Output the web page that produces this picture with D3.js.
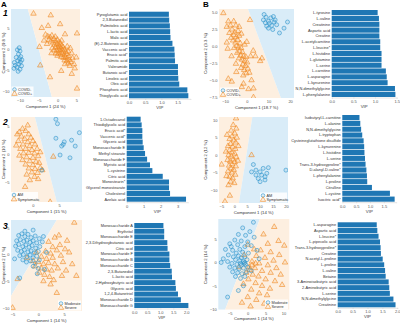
<!DOCTYPE html>
<html>
<head>
<meta charset="utf-8">
<script src="https://cdn.jsdelivr.net/npm/d3@7"></script>
<style>
  body { margin: 0; background: #fff; }
  svg { display: block; font-family: "Liberation Sans", Arial, sans-serif; }
</style>
</head>
<body>
<svg id="fig" width="400" height="323"></svg>
<script>
// ---------- VIP bar data (top to bottom) ----------
const a1Names = ["Pyroglutamic acid", "2,3-Butanediol", "Palmitoleic acid", "L-lactic acid", "Malic acid",
  "(E)-2-Butenoic acid", "Vaccenic acid*", "Erucic acid*", "Palmitic acid", "Valeramide",
  "Butanoic acid*", "Linoleic acid", "Oleic acid", "Phosphoric acid", "Thioglycolic acid"];
const a1Vip = [1.23, 1.24, 1.26, 1.27, 1.28, 1.34, 1.40, 1.41, 1.42, 1.51, 1.51, 1.52, 1.55, 1.80, 1.83];

const b1Names = ["L-tyrosine", "L-valine", "Creatinine", "Aspartic acid", "Creatine",
  "L-acetylcarnitine", "L-leucine*", "L-histidine", "L-glutamine", "L-serine",
  "L-carnitine", "L-asparagine", "L-kynurenine", "N,N-dimethylglycine", "L-phenylalanine"];
const b1Vip = [1.06, 1.09, 1.10, 1.10, 1.10, 1.12, 1.12, 1.15, 1.15, 1.15, 1.25, 1.27, 1.29, 1.46, 1.47];

const a2Names = ["1-Octadecanol", "Thiodiglycolic acid", "Erucic acid*", "Vaccenic acid*", "Glyceric acid",
  "Monosaccharide E", "Methyl stearate", "Monosaccharide F", "Myristic acid", "L-cysteine",
  "Citric acid", "Monostearin*", "Glycerol monostearate", "Cholesterol", "Azelaic acid"];
const a2Vip = [0.82, 0.88, 0.92, 0.92, 0.94, 1.00, 1.08, 1.20, 1.37, 1.51, 2.12, 2.49, 2.49, 2.55, 3.49];

const b2Names = ["Isobutyryl-L-carnitine", "L-alanine", "N,N-dimethylglycine", "L-tryptophan", "Cysteineglutathione disulfide",
  "L-kynurenine", "L-histidine", "L-serine", "Trans-3-hydroxyproline*", "D-alanyl-D-valine*",
  "L-phenylalanine", "L-proline", "Citrulline", "L-cystine", "Isocitric acid*"];
const b2Vip = [0.62, 0.65, 0.68, 0.72, 0.77, 0.79, 0.80, 0.82, 0.84, 0.87, 0.89, 0.90, 1.07, 1.72, 1.89];

const a3Names = ["Monosaccharide A", "Erythritol", "Monosaccharide E", "2,3-Dihydroxybutanoic acid", "Citric acid",
  "Monosaccharide F", "Monosaccharide B", "Monosaccharide C", "2,3-Butanediol", "L-lactic acid",
  "2-Hydroxybutyric acid", "Glyceric acid", "1,2,4-Butanetriol", "Monosaccharide D", "Monosaccharide G"];
const a3Vip = [1.12, 1.15, 1.15, 1.27, 1.28, 1.35, 1.35, 1.38, 1.44, 1.45, 1.58, 1.60, 1.68, 1.79, 2.08];

const b3Names = ["L-asparagine", "Aspartic acid", "L-leucine*", "L-pipecolic acid", "Trans-3-hydroxyproline*",
  "Creatine", "N-acetyl-L-proline", "L-proline", "L-valine", "Betaine",
  "3-Aminoisobutyric acid", "2-Aminobutyric acid", "L-serine", "N,N-dimethylglycine", "Creatinine"];
const b3Vip = [1.31, 1.33, 1.37, 1.42, 1.44, 1.45, 1.51, 1.56, 1.59, 1.61, 1.71, 1.73, 1.75, 1.87, 1.94];

// ---------- score plot data: [component 1, component 2] ----------
const a1Circles = [[-10.2,0.3],[-10.0,-0.5],[-10.4,-1.2],[-9.8,-1.8],[-10.1,-2.3],[-10.6,-2.8],[-9.9,-3.1],
  [-10.3,-3.6],[-11.5,-3.2],[-11.3,-3.9],[-10.8,-4.3],[-9.6,-4.0],[-10.0,-4.8],[-10.5,-5.3],[-11.0,-2.0],
  [-9.5,-2.6],[-10.7,-0.2],[-11.6,-4.6]];
const a1Triangles = [[-3.2,3.4],[-2.6,3.0],[-2.0,2.8],[-1.5,3.2],[-2.3,2.2],[-1.8,1.8],[-1.0,2.4],[-0.6,2.9],
  [-1.2,1.5],[-0.5,1.9],[0.0,2.2],[0.4,1.6],[-0.8,1.0],[-0.2,1.2],[0.3,0.9],[0.8,1.3],[1.2,0.8],[-0.5,0.4],
  [0.1,0.3],[0.6,0.5],[1.0,0.1],[1.5,0.4],[-1.4,0.2],[-0.9,-0.3],[-0.2,-0.4],[0.4,-0.2],[0.9,-0.6],[1.4,-0.3],
  [1.9,-0.1],[2.2,-0.7],[0.2,-1.0],[0.8,-1.3],[1.3,-1.0],[1.8,-1.4],[2.4,-1.2],[2.8,-0.5],[1.0,-1.9],[1.6,-2.1],
  [2.1,-1.9],[2.6,-2.2],[3.0,-1.7],[1.9,-2.7],[2.5,-2.9],[3.2,-2.6],[3.6,-3.1],[2.9,-3.4],[4.0,-2.2],[3.4,0.2],
  [-2.8,1.2],[-3.6,2.0],[0.0,-1.6],[-0.4,-1.1],[1.1,2.0],[2.6,0.6],[3.8,-1.0],[-1.6,-1.0],[4.4,-3.6],[3.3,-4.0],
  [2.0,-3.6],[-6.4,8.4],[-1.8,8.0],[0.7,5.9],[5.2,3.7],[-4.2,5.0],[-2.5,5.5],[3.8,-5.9],[-2.0,-6.7],[5.2,-9.4],
  [-4.6,-3.9],[4.6,-4.6],[1.0,-5.2],[-4.8,0.5],[5.0,-2.0],[2.0,3.5]];

const b1Circles = [[8,4.6],[8.9,4.2],[7.7,3.8],[10,3.6],[11.1,4.1],[12.3,4.3],[13.1,3.8],[10.5,3.3],[9.2,2.9],
  [11.5,3.0],[13.8,3.1],[12,2.4],[15.1,1.9],[17.2,2.6],[18.8,3.5],[8.6,3.4],[10,2.6],[12.6,3.5]];
const b1Triangles = [[-10.8,4.8],[-8.5,3.6],[-9.2,2.8],[-7.5,3.0],[-6.8,2.4],[-8.0,1.9],[-6.0,1.6],[-7.2,1.2],
  [-5.5,2.0],[-4.8,1.3],[-6.3,0.8],[-5.2,0.5],[-4.2,0.9],[-3.5,1.5],[-4.6,0.0],[-3.8,-0.2],[-3.0,0.4],[-5.8,-0.3],
  [-2.6,-0.3],[-3.4,-0.8],[-4.4,-1.0],[-2.0,-0.9],[-2.8,-1.4],[-1.5,-1.5],[-3.6,-1.8],[-2.2,-2.0],[-1.0,-2.2],
  [-0.4,-1.6],[-1.8,-2.7],[-0.6,-2.9],[0.2,-2.4],[-2.6,-3.2],[-1.2,-3.5],[0.5,-3.3],[-0.2,-4.0],[1.2,-3.9],
  [-1.6,-4.3],[0.0,0.6],[-1.0,0.2],[1.5,3.8],[6.2,-2.2],[7.0,-1.8],[4.0,-1.5],[3.0,-0.7],[0.8,-6.3],[3.1,-6.2],
  [-2.3,-6.0],[3.1,-7.5],[-6.9,-5.2],[-8.5,-4.8],[-9.2,0.5],[-5.0,-2.6],[-7.0,-1.5],[-6.0,3.6],[-3.5,2.8],
  [-2.5,1.8],[-4.0,2.2],[-5.0,3.0],[-8.8,-0.4],[-1.5,-5.5],[2.2,-5.0],[-4.8,-3.8],[1.8,-1.5]];

const a2Circles = [[4.4,6.3],[4.7,5.5],[4.4,2.9],[6.0,2.25],[7.4,2.55],[5.8,1.8],[5.5,1.5],[8.1,1.5],[8.9,3.9],
  [5.2,-0.1],[7.1,-0.6],[1.7,-2.8]];
const a2Triangles = [[-2.0,4.6],[-2.6,4.0],[-1.4,4.2],[-0.8,3.6],[-2.2,3.2],[-1.6,2.8],[-0.4,3.0],[-2.8,2.4],
  [-1.0,2.2],[0.0,2.4],[-1.9,1.8],[-0.6,1.5],[0.4,1.8],[-2.4,1.0],[-1.4,1.0],[-0.2,0.8],[0.8,1.0],[-1.8,0.2],
  [-0.8,0.3],[0.3,0.2],[-2.6,-0.2],[-1.2,-0.5],[0.0,-0.6],[1.0,-0.3],[-2.0,-1.0],[-0.6,-1.2],[0.6,-1.3],
  [-1.4,-1.8],[0.0,-1.9],[1.2,-1.5],[-0.8,-2.5],[0.4,-2.6],[1.4,-2.4],[-0.2,-3.2],[0.9,-3.3],[-1.2,-3.6],
  [0.3,-4.0],[-0.6,-4.6],[1.0,-4.4],[-1.5,-5.8],[3.3,-8.5],[3.9,-0.4],[1.8,-2.8],[-3.2,1.6],[-3.0,3.6],
  [1.4,0.4],[-1.0,5.2]];

const b2Circles = [[7.4,-2.7],[8.4,-4.3],[10,-4.8],[11.2,-3.8],[10.6,-5.7],[11.9,-6.2],[12.6,-5.2],[9.3,-6.7],
  [8.4,-5.7],[13.2,-3.6],[20,-4.3],[6.7,-4.8],[11.9,-7.1],[10,-7.6]];
const b2Triangles = [[0.7,10.5],[-0.4,8.6],[0.8,7.6],[-1.2,7.0],[0.2,6.2],[-0.8,5.4],[1.0,5.0],[-1.8,4.6],
  [-0.2,4.2],[0.6,3.6],[-1.4,3.2],[-2.4,2.6],[-0.6,2.4],[0.4,1.8],[-1.8,1.4],[-0.9,0.8],[0.2,0.4],[-2.2,0.0],
  [-1.2,-0.4],[0.8,-0.6],[-0.4,-1.2],[-2.6,-1.4],[-1.6,-1.8],[0.2,-2.0],[-0.8,-2.6],[-2.0,-3.0],[0.6,-3.2],
  [-1.2,-3.8],[-0.2,-4.2],[-2.4,-4.6],[-1.0,-5.0],[0.4,-5.6],[-1.8,-6.2],[-0.6,-6.6],[-1.4,-7.6],[0.0,-8.0],
  [-2.2,-8.6],[-1.7,-11.6],[-3.6,-13.3],[6.7,0.0],[-4.9,-2.7],[-2.8,5.8],[1.6,2.6],[-3.2,1.0],[1.4,-1.6],
  [-3.0,-6.0]];

const a3Circles = [[-3.8,3.6],[-3.2,3.9],[-2.6,3.4],[-2.0,3.8],[-1.4,3.2],[-0.6,3.5],[0.2,3.0],[0.8,2.4],
  [-4.2,2.6],[-3.5,2.8],[-2.8,2.5],[-2.2,2.7],[-1.6,2.3],[-1.0,2.6],[-0.3,2.2],[-4.4,1.6],[-3.8,1.9],[-3.0,1.5],
  [-2.4,1.8],[-1.8,1.4],[-1.2,1.7],[-0.5,1.2],[0.3,1.5],[-4.0,0.8],[-3.3,0.6],[-2.7,0.9],[-2.0,0.5],[-1.4,0.7],
  [-0.8,0.3],[0.0,0.6],[-3.6,-0.2],[-2.9,0.0],[-2.2,-0.4],[-1.6,-0.1],[-1.0,-0.6],[-0.3,-0.3],[-3.0,-1.0],
  [-2.3,-1.4],[-1.5,-1.2],[-0.6,-1.6],[0.2,-1.0],[-1.0,-2.2],[0.0,-2.6],[-0.2,-3.6],[1.2,-2.8],[-4.6,-0.8],
  [-3.6,-4.4],[1.6,0.4],[1.0,3.4],[-2.6,4.4],[-1.0,4.6]];
const a3Triangles = [[7.0,6.0],[3.2,3.2],[2.0,2.4],[2.8,1.4],[4.2,1.8],[5.6,2.6],[1.4,0.6],[2.4,0.2],[3.6,0.8],
  [0.6,-0.4],[1.6,-0.8],[2.8,-0.6],[4.4,-0.2],[6.0,0.4],[0.0,-1.4],[1.0,-1.8],[2.0,-1.6],[3.2,-1.8],[4.8,-1.4],
  [-0.6,-2.2],[0.6,-2.6],[1.6,-2.8],[2.6,-3.0],[3.8,-2.6],[5.4,-3.0],[0.2,-3.4],[1.2,-3.8],[2.2,-4.2],[3.0,-4.8],
  [1.0,-5.0],[4.6,-4.0],[7.4,-4.0],[3.6,-7.2],[-5.0,-10.0],[-4.0,-4.6],[-2.2,-0.6],[-1.0,-1.2],[6.6,-1.8],
  [4.0,3.6],[-0.4,0.4],[2.4,-5.6],[5.2,1.0]];

const b3Circles = [[1.6,8.6],[-1.4,7.4],[0.6,6.6],[-2.6,6.0],[-0.6,5.8],[1.8,5.4],[-3.6,4.8],[-1.8,4.6],[0.0,4.4],
  [-5.0,4.0],[-2.8,3.8],[-0.8,3.4],[1.0,3.6],[-6.2,2.8],[-4.2,2.6],[-2.2,2.8],[-3.2,2.0],[-1.4,2.2],[0.2,2.0],
  [-5.4,1.6],[-4.0,1.2],[-2.6,1.4],[-1.8,1.0],[-0.8,1.2],[-3.4,0.6],[-2.2,0.4],[-1.2,0.2],[-0.2,0.6],[-6.8,0.8],
  [-5.6,0.2],[-4.4,-0.2],[-3.0,-0.4],[-1.8,-0.6],[-0.6,-0.4],[-5.0,-1.0],[-3.6,-1.2],[-2.4,-1.4],[-1.2,-1.2],
  [0.0,-1.0],[-4.2,-2.0],[-2.8,-2.2],[-1.6,-2.4],[-0.4,-2.0],[-3.4,-3.0],[-2.0,-3.4],[-0.8,-3.0],[1.0,-1.8],
  [-1.2,-5.0],[-5.6,-7.4],[-2.6,-6.0],[3.2,0.8],[-7.4,0.0],[-4.6,3.4],[2.6,2.6],[-1.0,-0.2],[-2.0,-0.2],[-0.8,0.0]];
const b3Triangles = [[7.4,7.6],[4.4,6.0],[8.6,4.6],[5.6,4.0],[10.2,3.6],[3.6,2.6],[6.4,2.2],[8.8,1.6],[2.4,1.4],
  [4.8,1.0],[7.2,0.4],[10.4,0.0],[1.2,0.2],[3.2,-0.2],[5.6,-0.6],[8.0,-1.2],[0.4,-1.0],[2.0,-1.2],[4.0,-1.8],
  [6.4,-2.2],[9.2,-2.6],[-0.4,-2.2],[1.4,-2.6],[3.0,-3.0],[5.0,-3.6],[7.6,-4.0],[0.2,-3.6],[2.2,-4.4],[4.0,-5.0],
  [6.2,-5.6],[-1.2,-4.6],[1.0,-5.8],[3.2,-6.6],[5.4,-7.0],[0.0,-7.4],[2.4,-8.0],[-1.6,-8.6],[0.8,-9.4],
  [4.6,-8.8],[1.8,2.8],[0.0,3.8],[-1.0,1.6],[-2.4,-1.0],[2.2,-0.2],[0.6,-1.6],[1.2,-0.6],[9.6,-4.8]];

// ---------- styling ----------
const BLUE = "#2f95cc", ORANGE = "#f08a24";
const BLUE_BG = "#d9ecf8", ORANGE_BG = "#fdefe0";
const BAR = "#1f77b4";
const TICK = "#555", TITLE = "#333";

const svg = d3.select("#fig");

function drawScatter(cfg) {
  const x = d3.scaleLinear().domain(cfg.xDom).range([cfg.left, cfg.right]);
  const y = d3.scaleLinear().domain(cfg.yDom).range([cfg.bottom, cfg.top]);

  svg.append("clipPath").attr("id", "clip-" + cfg.id)
    .append("rect")
    .attr("x", cfg.left).attr("y", cfg.top)
    .attr("width", cfg.right - cfg.left).attr("height", cfg.bottom - cfg.top);

  const g = svg.append("g").attr("clip-path", `url(#clip-${cfg.id})`);

  // decision regions split by a straight boundary
  const [p, q] = cfg.boundary;
  const x1 = x(p[0]), y1 = y(p[1]), x2 = x(q[0]), y2 = y(q[1]);
  const xAt = yy => x1 + (x2 - x1) * (yy - y1) / (y2 - y1);
  const xt = xAt(cfg.top), xb = xAt(cfg.bottom);
  g.append("polygon")
    .attr("points", [[cfg.left - 400, cfg.top], [xt, cfg.top], [xb, cfg.bottom], [cfg.left - 400, cfg.bottom]].join(" "))
    .attr("fill", cfg.leftBg);
  g.append("polygon")
    .attr("points", [[xt, cfg.top], [cfg.right + 400, cfg.top], [cfg.right + 400, cfg.bottom], [xb, cfg.bottom]].join(" "))
    .attr("fill", cfg.rightBg);

  const tri = d3.symbol().type(d3.symbolTriangle).size(13);
  g.selectAll(".tri").data(cfg.triangles).join("path")
    .attr("class", "tri")
    .attr("d", tri)
    .attr("transform", d => `translate(${x(d[0])},${y(d[1])})`)
    .attr("fill", ORANGE).attr("fill-opacity", 0.12)
    .attr("stroke", ORANGE).attr("stroke-width", 0.6);

  g.selectAll(".dot").data(cfg.circles).join("circle")
    .attr("class", "dot")
    .attr("cx", d => x(d[0])).attr("cy", d => y(d[1])).attr("r", 2)
    .attr("fill", BLUE).attr("fill-opacity", 0.12)
    .attr("stroke", BLUE).attr("stroke-width", 0.6);

  // axes
  const xa = svg.append("g")
    .attr("transform", `translate(0,${cfg.bottom})`)
    .call(d3.axisBottom(x).tickValues(cfg.xTicks).tickSize(0).tickPadding(2.5).tickFormat(cfg.xFmt || d3.format("")));
  const ya = svg.append("g")
    .attr("transform", `translate(${cfg.left},0)`)
    .call(d3.axisLeft(y).tickValues(cfg.yTicks).tickSize(0).tickPadding(1.5).tickFormat(cfg.yFmt || d3.format("")));
  [xa, ya].forEach(a => {
    a.select(".domain").remove();
    a.selectAll("text").attr("font-size", 4).attr("fill", TICK).attr("font-family", "Liberation Sans, Arial, sans-serif");
  });

  svg.append("text")
    .attr("x", (cfg.left + cfg.right) / 2).attr("y", cfg.bottom + 10.5)
    .attr("text-anchor", "middle").attr("font-size", 4.3).attr("fill", TITLE)
    .text(cfg.xLabel);
  svg.append("text")
    .attr("transform", `translate(${cfg.yLabelX},${(cfg.top + cfg.bottom) / 2}) rotate(-90)`)
    .attr("text-anchor", "middle").attr("font-size", 4.3).attr("fill", TITLE)
    .text(cfg.yLabel);

  // legend
  const lg = svg.append("g").attr("transform", `translate(${cfg.legend[0]},${cfg.legend[1]})`);
  lg.append("rect").attr("x", 0).attr("y", 0).attr("width", cfg.legendW).attr("height", 10)
    .attr("fill", "#fff").attr("fill-opacity", 0.85);
  lg.append("circle").attr("cx", 3).attr("cy", 3).attr("r", 1.8)
    .attr("fill", BLUE).attr("fill-opacity", 0.12).attr("stroke", BLUE).attr("stroke-width", 0.6);
  lg.append("path").attr("d", tri).attr("transform", "translate(3,7.3)")
    .attr("fill", ORANGE).attr("fill-opacity", 0.12).attr("stroke", ORANGE).attr("stroke-width", 0.6);
  cfg.legendNames.forEach((t, i) => {
    lg.append("text").attr("x", 6.5).attr("y", 4.4 + i * 4.3)
      .attr("font-size", 3.8).attr("fill", TITLE).text(t);
  });
}

function drawBars(cfg) {
  const x = d3.scaleLinear().domain([0, cfg.max]).range([cfg.left, cfg.right]);
  const y = d3.scaleBand().domain(d3.range(cfg.names.length)).range([cfg.top, cfg.bottom]).paddingInner(0.12);

  svg.append("g").selectAll("rect").data(cfg.values).join("rect")
    .attr("x", x(0)).attr("y", (d, i) => y(i))
    .attr("width", d => x(d) - x(0)).attr("height", y.bandwidth())
    .attr("fill", BAR);

  svg.append("g").selectAll("text").data(cfg.names).join("text")
    .attr("x", x(0) - 1.5).attr("y", (d, i) => y(i) + y.bandwidth() / 2 + 1.4)
    .attr("text-anchor", "end").attr("font-size", 3.9).attr("fill", TITLE)
    .text(d => d);

  const ax = svg.append("g")
    .attr("transform", `translate(0,${cfg.bottom + 0.5})`)
    .call(d3.axisBottom(x).tickValues(cfg.ticks).tickSize(1).tickPadding(1.5).tickFormat(cfg.fmt));
  ax.select(".domain").attr("stroke", "#bbb").attr("stroke-width", 0.4);
  ax.selectAll(".tick line").attr("stroke", "#bbb").attr("stroke-width", 0.4);
  ax.selectAll("text").attr("font-size", 4).attr("fill", TICK).attr("font-family", "Liberation Sans, Arial, sans-serif");

  svg.append("text")
    .attr("x", (x(0) + x(cfg.max)) / 2).attr("y", cfg.bottom + 11)
    .attr("text-anchor", "middle").attr("font-size", 4.3).attr("fill", TITLE)
    .text("VIP");
}

const f1 = d3.format(".1f");

// ---------- row 1 ----------
drawScatter({ id: "a1", left: 11, right: 80, top: 9, bottom: 97,
  xDom: [-12.4, 6.0], yDom: [-11.4, 9.5], xTicks: [-10, -5, 0, 5], yTicks: [-10, -5, 0, 5],
  boundary: [[-7.9, 9.5], [-1.5, -11.4]], leftBg: BLUE_BG, rightBg: ORANGE_BG,
  circles: a1Circles, triangles: a1Triangles,
  xLabel: "Component 1 (24 %)", yLabel: "Component 2 (9.8 %)", yLabelX: 4.5,
  legend: [11.5, 86.5], legendW: 22, legendNames: ["COVID-", "COVID+"] });
drawBars({ names: a1Names, values: a1Vip, left: 129, right: 190.6, max: 1.9,
  top: 11.7, bottom: 98.3, ticks: [0, 0.5, 1, 1.5], fmt: f1 });

drawScatter({ id: "b1", left: 219, right: 294, top: 9, bottom: 98,
  xDom: [-12.8, 21.8], yDom: [-7.6, 5.4], xTicks: [-10, 0, 10, 20], yTicks: [-7.5, -5, -2.5, 0, 2.5, 5],
  yFmt: f1, boundary: [[0.7, 5.3], [15.3, -7.2]], leftBg: ORANGE_BG, rightBg: BLUE_BG,
  circles: b1Circles, triangles: b1Triangles,
  xLabel: "Component 1 (18.7 %)", yLabel: "Component 2 (3.3 %)", yLabelX: 207,
  legend: [220, 87.5], legendW: 19, legendNames: ["COVID-", "COVID+"] });
drawBars({ names: b1Names, values: b1Vip, left: 331.7, right: 396.7, max: 1.5,
  top: 10, bottom: 97, ticks: [0, 0.5, 1, 1.5], fmt: f1 });

// ---------- row 2 ----------
drawScatter({ id: "a2", left: 11, right: 82, top: 117, bottom: 202,
  xDom: [-4.2, 9.4], yDom: [-8.5, 6.7], xTicks: [0, 5], yTicks: [-5, 0, 5],
  boundary: [[0.4, 6.6], [4.6, -8.6]], leftBg: ORANGE_BG, rightBg: BLUE_BG,
  circles: a2Circles, triangles: a2Triangles,
  xLabel: "Component 1 (15 %)", yLabel: "Component 2 (10 %)", yLabelX: 4.5,
  legend: [11, 192], legendW: 27, legendNames: ["AM", "Symptomatic"] });
drawBars({ names: a2Names, values: a2Vip, left: 126.7, right: 187.9, max: 3.6,
  top: 116.7, bottom: 201.7, ticks: [0, 1, 2, 3], fmt: d3.format("d") });

drawScatter({ id: "b2", left: 219, right: 288, top: 117, bottom: 203,
  xDom: [-5.9, 20.8], yDom: [-13.7, 10.9], xTicks: [-5, 0, 5, 10, 15, 20], yTicks: [-10, -5, 0, 5, 10],
  boundary: [[7.0, 10.9], [1.8, -13.7]], leftBg: ORANGE_BG, rightBg: BLUE_BG,
  circles: b2Circles, triangles: b2Triangles,
  xLabel: "Component 1 (14 %)", yLabel: "Component 2 (12 %)", yLabelX: 207,
  legend: [260, 192.5], legendW: 27, legendNames: ["AM", "Symptomatic"] });
drawBars({ names: b2Names, values: b2Vip, left: 342.3, right: 396.3, max: 1.95,
  top: 115, bottom: 201.7, ticks: [0, 0.5, 1, 1.5], fmt: f1 });

// ---------- row 3 ----------
drawScatter({ id: "a3", left: 11, right: 82, top: 220, bottom: 311,
  xDom: [-5.3, 8.5], yDom: [-10.6, 6.5], xTicks: [-5, 0, 5], yTicks: [-10, -5, 0, 5],
  boundary: [[3.6, 6.5], [-5.3, -7.8]], leftBg: BLUE_BG, rightBg: ORANGE_BG,
  circles: a3Circles, triangles: a3Triangles,
  xLabel: "Component 1 (14 %)", yLabel: "Component 2 (7 %)", yLabelX: 4.5,
  legend: [58, 300.5], legendW: 23, legendNames: ["Moderate", "Severe"] });
drawBars({ names: a3Names, values: a3Vip, left: 134.3, right: 188.9, max: 2.1,
  top: 223, bottom: 308, ticks: [0, 0.5, 1, 1.5, 2], fmt: f1 });

drawScatter({ id: "b3", left: 218.3, right: 289.3, top: 219, bottom: 309.7,
  xDom: [-8.2, 11.6], yDom: [-10.1, 9.3], xTicks: [-5, 0, 5, 10], yTicks: [-10, -5, 0, 5],
  boundary: [[3.4, 9.3], [-6.3, -10.1]], leftBg: BLUE_BG, rightBg: ORANGE_BG,
  circles: b3Circles, triangles: b3Triangles,
  xLabel: "Component 1 (14 %)", yLabel: "Component 2 (14 %)", yLabelX: 207,
  legend: [265, 299.5], legendW: 23, legendNames: ["Moderate", "Severe"] });
drawBars({ names: b3Names, values: b3Vip, left: 337.7, right: 397.3, max: 2.0,
  top: 222.3, bottom: 307.3, ticks: [0, 0.5, 1, 1.5, 2], fmt: f1 });

// ---------- panel letters ----------
svg.append("text").attr("x", 1).attr("y", 6.5).attr("font-size", 8).attr("font-weight", "bold").text("A");
svg.append("text").attr("x", 203).attr("y", 6.5).attr("font-size", 8).attr("font-weight", "bold").text("B");
[["1", 16], ["2", 125], ["3", 228.5]].forEach(([t, yy]) => {
  svg.append("text").attr("x", 3).attr("y", yy).attr("font-size", 8.5)
    .attr("font-weight", "bold").attr("font-style", "italic").text(t);
});
</script>
</body>
</html>
